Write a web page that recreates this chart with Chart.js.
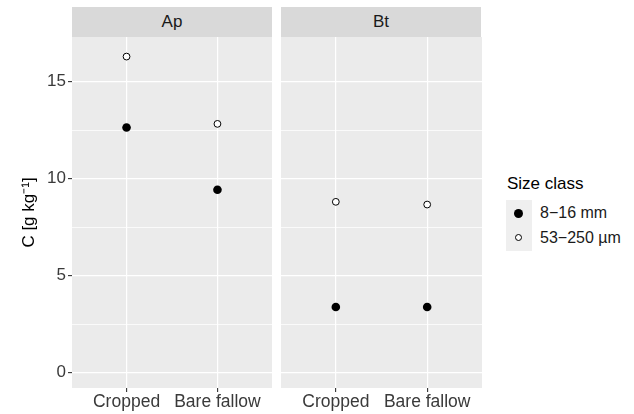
<!DOCTYPE html>
<html>
<head>
<meta charset="utf-8">
<script src="https://cdn.jsdelivr.net/npm/chart.js@4"></script>
<style>
  html, body { margin: 0; padding: 0; background: #fff; }
  #wrap { position: relative; width: 634px; height: 414px; overflow: hidden; font-family: "Liberation Sans", Arial, sans-serif; }
  canvas { position: absolute; top: 0; }
  .strip { position: absolute; top: 7px; height: 30px; width: 200px; background: #d9d9d9; color: #1a1a1a;
           font-size: 17px; line-height: 30px; text-align: center; }
  .legtitle { position: absolute; left: 507px; top: 174px; font-size: 17px; color: #000; }
  .keybox { position: absolute; left: 506px; top: 200px; width: 26px; height: 51px; background: #efefef; }
  .dot { position: absolute; border-radius: 50%; box-sizing: border-box; }
  .leglab { position: absolute; left: 540px; font-size: 16px; color: #1a1a1a; line-height: 20px; }
</style>
</head>
<body>
<div id="wrap">
  <canvas id="cA" width="272" height="414" style="left:0px"></canvas>
  <canvas id="cB" width="201" height="414" style="left:281px"></canvas>
  <div class="strip" id="s0" style="left:72px"></div>
  <div class="strip" id="s1" style="left:281px"></div>
  <div class="legtitle" id="legT"></div>
  <div class="keybox"></div>
  <div class="dot" style="left:514px;top:209px;width:9px;height:9px;background:#000;"></div>
  <div class="dot" style="left:515px;top:234px;width:7px;height:7px;background:#fff;border:1px solid #000;"></div>
  <div class="leglab" id="l0" style="top:203px"></div>
  <div class="leglab" id="l1" style="top:228px"></div>
</div>
<script>
// ---- data ----
const panels = ['Ap', 'Bt'];
const categories = ['Cropped', 'Bare fallow'];
const seriesNames = ['8\u221216 mm', '53\u2212250 \u00b5m'];
const ap_8_16 = [12.63, 9.42];
const ap_53_250 = [16.29, 12.82];
const bt_8_16 = [3.38, 3.38];
const bt_53_250 = [8.80, 8.66];
const yTicks = [0, 2.5, 5, 7.5, 10, 12.5, 15];
const yTitle = 'C [g kg\u207b\u00b9]';
const legendTitle = 'Size class';

document.getElementById('s0').textContent = panels[0];
document.getElementById('s1').textContent = panels[1];
document.getElementById('legT').textContent = legendTitle;
document.getElementById('l0').textContent = seriesNames[0];
document.getElementById('l1').textContent = seriesNames[1];

const FONT = '"Liberation Sans", Arial, sans-serif';

const panelBg = {
  id: 'panelBg',
  beforeDraw(chart) {
    const a = chart.chartArea, ctx = chart.ctx;
    ctx.save();
    ctx.fillStyle = '#ebebeb';
    ctx.fillRect(a.left, a.top, a.right - a.left, a.bottom - a.top);
    ctx.restore();
  }
};

function toPts(vals) { return vals.map((v, i) => ({ x: i, y: v })); }

function makeChart(id, filledVals, openVals, showY) {
  const isMajor = v => Math.abs(v % 5) < 1e-9;
  return new Chart(document.getElementById(id), {
    type: 'scatter',
    data: {
      datasets: [
        { label: seriesNames[0], data: toPts(filledVals), pointRadius: 4.3, pointBorderWidth: 0,
          pointBackgroundColor: '#000', pointBorderColor: '#000' },
        { label: seriesNames[1], data: toPts(openVals), pointRadius: 3.4, pointBorderWidth: 1,
          pointBackgroundColor: '#fff', pointBorderColor: '#000' }
      ]
    },
    options: {
      responsive: false,
      animation: false,
      devicePixelRatio: 1,
      layout: { autoPadding: false, padding: { top: 37, bottom: 0, left: 0, right: 0 } },
      plugins: { legend: { display: false }, tooltip: { enabled: false } },
      scales: {
        x: {
          type: 'linear', min: -0.6, max: 1.6,
          afterBuildTicks: s => { s.ticks = categories.map((c, i) => ({ value: i })); },
          afterFit: s => { s.height = 26; },
          ticks: { callback: v => categories[v], color: '#3a3a3a', font: { family: FONT, size: 17.5 },
                   padding: 0, maxRotation: 0, autoSkip: false },
          grid: { color: '#fff', lineWidth: 1.2, tickColor: '#333', tickLength: 4, tickWidth: 1.1 },
          border: { display: false }
        },
        y: {
          min: -0.8, max: 17.3,
          afterBuildTicks: s => { s.ticks = yTicks.map(v => ({ value: v })); },
          afterFit: s => { s.width = showY ? 72 : 0; },
          title: { display: showY, text: yTitle, color: '#000', font: { family: FONT, size: 17 },
                   padding: { top: 19, bottom: 0 } },
          ticks: { display: showY, callback: v => isMajor(v) ? String(v) : '', color: '#3a3a3a',
                   font: { family: FONT, size: 17 }, padding: 2 },
          grid: {
            drawTicks: showY,
            color: '#fff',
            lineWidth: c => (c.tick && isMajor(c.tick.value)) ? 1.2 : 0.75,
            tickColor: c => (c.tick && isMajor(c.tick.value)) ? '#333' : 'rgba(0,0,0,0)',
            tickLength: 4, tickWidth: 1.1
          },
          border: { display: false }
        }
      }
    },
    plugins: [panelBg]
  });
}

makeChart('cA', ap_8_16, ap_53_250, true);
makeChart('cB', bt_8_16, bt_53_250, false);
</script>
</body>
</html>
